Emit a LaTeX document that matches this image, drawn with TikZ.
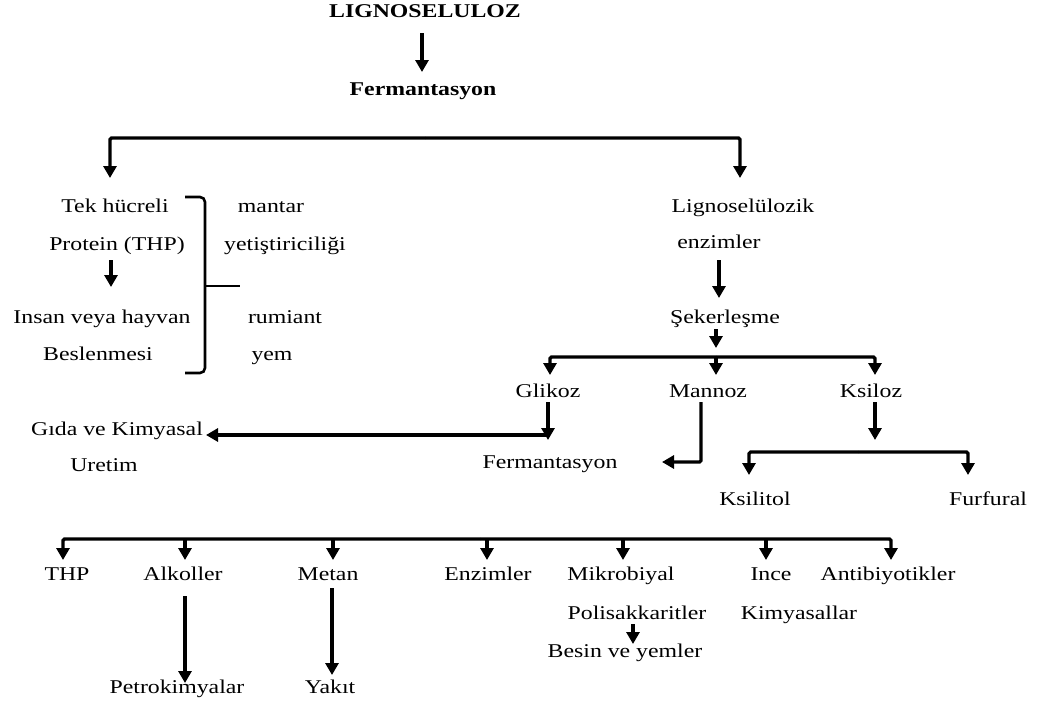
\documentclass[tikz,border=0pt]{standalone}
\usepackage{fontspec}
\setmainfont[FakeStretch=1.22]{Liberation Serif}
\usetikzlibrary{arrows.meta}
\begin{document}
\begin{tikzpicture}[x=1pt,y=-1pt,
  txt/.style={anchor=base,inner sep=0pt,font=\fontsize{19.5}{22}\selectfont},
  bld/.style={anchor=base,inner sep=0pt,font=\fontsize{19.5}{22}\selectfont\bfseries},
  ln/.style={line width=3.2pt,rounded corners=1.5pt},
  arr/.style={ln,-{Triangle[width=13pt,length=12pt]}}]
\useasboundingbox (0,0) rectangle (1039,704);
% top
\node[bld] (lig) at (425,17) {LIGNOSELULOZ};
\node[bld] (fer) at (423,95) {Fermantasyon};
% left group
\node[txt] (tek) at (115,212) {Tek hücreli};
\node[txt] (pro) at (117,250) {Protein (THP)};
\node[txt] (ins) at (102,323) {Insan veya hayvan};
\node[txt] (bes) at (98,360) {Beslenmesi};
\node[txt] (man) at (271,212) {mantar};
\node[txt] (yet) at (285,250) {yetiştiriciliği};
\node[txt] (rum) at (285,323) {rumiant};
\node[txt] (yem) at (272,360) {yem};
% right group
\node[txt] (lgz) at (743,212) {Lignoselülozik};
\node[txt] (enz) at (719,248) {enzimler};
\node[txt] (sek) at (725,323) {Şekerleşme};
\node[txt] (gli) at (548,397) {Glikoz};
\node[txt] (mnz) at (708,397) {Mannoz};
\node[txt] (ksz) at (871,397) {Ksiloz};
\node[txt] (gid) at (117,435) {Gıda ve Kimyasal};
\node[txt] (ure) at (104,471) {Uretim};
\node[txt] (fer2) at (550,468) {Fermantasyon};
\node[txt] (ksl) at (755,505) {Ksilitol};
\node[txt] (fur) at (988,505) {Furfural};
% bottom
\node[txt] (thp) at (67,580) {THP};
\node[txt] (alk) at (183,580) {Alkoller};
\node[txt] (met) at (328,580) {Metan};
\node[txt] (enz2) at (488,580) {Enzimler};
\node[txt] (mik) at (621,580) {Mikrobiyal};
\node[txt] (inc) at (771,580) {Ince};
\node[txt] (ant) at (888,580) {Antibiyotikler};
\node[txt] (pol) at (637,619) {Polisakkaritler};
\node[txt] (kim) at (799,619) {Kimyasallar};
\node[txt] (bsn) at (625,657) {Besin ve yemler};
\node[txt] (pet) at (177,693) {Petrokimyalar};
\node[txt] (yak) at (330,693) {Yakıt};
% connectors top
\draw[arr] (422,33) -- (422,72);
\draw[arr] (425,138) -| (110,178);
\draw[arr] (425,138) -| (740,178);
% bracket
\draw[ln,line width=2.6pt,rounded corners=5pt] (185,197) -- (205,197) -- (205,373) -- (185,373);
\draw[ln,line width=2.6pt] (205,286) -- (240,286);
\draw[arr] (111,260) -- (111,287);
% right chain
\draw[arr] (719,260) -- (719,298);
\draw[arr] (716,329) -- (716,348);
\draw[arr] (716,357) -- (716,375);
\draw[arr] (716,357) -| (550,375);
\draw[arr] (716,357) -| (875,375);
\draw[arr] (548,402) -- (548,440);
\draw[arr] (548,435) -- (206,435);
\draw[arr] (701,402) |- (662,462);
\draw[arr] (875,402) -- (875,440);
\draw[arr] (858,452) -| (749,475);
\draw[arr] (858,452) -| (968,475);
% bottom
\draw[arr] (480,539) -| (63,560);
\draw[arr] (480,539) -| (891,560);
\draw[arr] (185,539) -- (185,560);
\draw[arr] (333,539) -- (333,560);
\draw[arr] (487,539) -- (487,560);
\draw[arr] (623,539) -- (623,560);
\draw[arr] (766,539) -- (766,560);
\draw[arr] (185,596) -- (185,683);
\draw[arr] (332,588) -- (332,675);
\draw[arr] (633,624) -- (633,644);
\end{tikzpicture}
\end{document}
